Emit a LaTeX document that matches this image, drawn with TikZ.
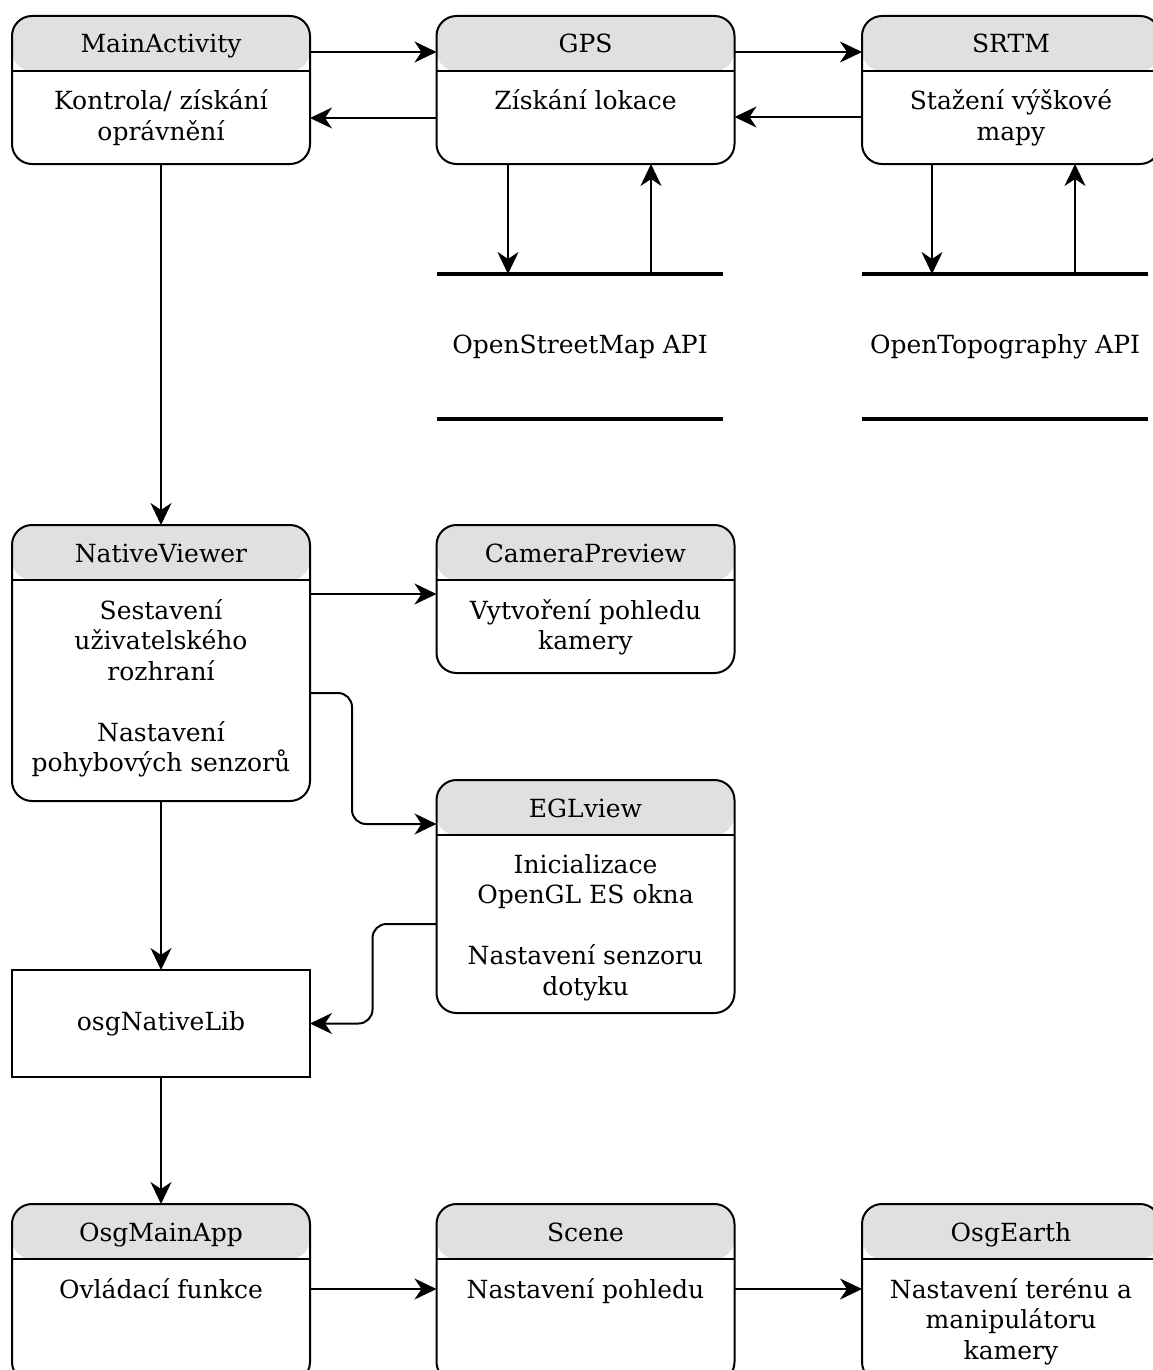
\documentclass[tikz,border=0pt]{standalone}
\usepackage{fontspec}
\setmainfont{DejaVu Serif}
\usetikzlibrary{positioning}
\usetikzlibrary{arrows.meta}
\definecolor{headgray}{HTML}{E0E0E0}

\begin{document}
\begin{tikzpicture}
  [
  x=1pt, y=-1pt,
  % 文字の設定
  every node/.style={font=\fontsize{25}{30.5}\selectfont, align=center,
  inner sep=0, outer sep=0},
  % 矢印の設定
  arrow/.style={-{Stealth[length=22pt, width=21pt, inset=7pt]}, line width=2pt},
  % 見出し付きブロック
  lane/.style={rectangle, draw, line width=2pt, rounded corners=20pt,
  minimum width=298pt, fill=white,
  path picture={\fill[headgray] (path picture bounding box.north west)
  rectangle ([yshift=-55pt]path picture bounding box.north east);
  \draw[line width=2pt] ([yshift=-55pt]path picture bounding box.north west)
  -- ([yshift=-55pt]path picture bounding box.north east);}},
  % 見出しと本文
  title/.style={anchor=base},
  body/.style={anchor=north},
  % 単純なブロック
  plainbox/.style={rectangle, draw, line width=2pt, minimum width=298pt,
  minimum height=107pt},
  % データストア
  store/.style={minimum width=286pt, minimum height=145pt},
  storeline/.style={line width=4pt}
  ]
  \useasboundingbox (0,0) rectangle (1153,1370);

  % 上段
  \node [lane, minimum height=148pt] (main) at (161,90) {};
  \node [title] (mainT) at ([yshift=-37pt]main.north) {MainActivity};
  \node [body] (mainB) at ([yshift=-74pt]main.north) {Kontrola/ získání\\oprávnění};
  \node [lane, minimum height=148pt] (gps) at (585.5,90) {};
  \node [title] (gpsT) at ([yshift=-37pt]gps.north) {GPS};
  \node [body] (gpsB) at ([yshift=-74pt]gps.north) {Získání lokace};
  \node [lane, minimum height=148pt] (srtm) at (1011,90) {};
  \node [title] (srtmT) at ([yshift=-37pt]srtm.north) {SRTM};
  \node [body] (srtmB) at ([yshift=-74pt]srtm.north) {Stažení výškové\\mapy};

  % API
  \node [store] (osm) at (580,346.5) {OpenStreetMap API};
  \draw [storeline] (osm.north west) -- (osm.north east);
  \draw [storeline] (osm.south west) -- (osm.south east);
  \node [store] (topo) at (1005,346.5) {OpenTopography API};
  \draw [storeline] (topo.north west) -- (topo.north east);
  \draw [storeline] (topo.south west) -- (topo.south east);

  % 中段
  \node [lane, minimum height=276pt] (native) at (161,663) {};
  \node [title] (nativeT) at ([yshift=-37pt]native.north) {NativeViewer};
  \node [body] (nativeB) at ([yshift=-74pt]native.north)
  {Sestavení\\uživatelského\\rozhraní\\[30.5pt]Nastavení\\pohybových senzorů};
  \node [lane, minimum height=148pt] (camera) at (585.5,599) {};
  \node [title] (cameraT) at ([yshift=-37pt]camera.north) {CameraPreview};
  \node [body] (cameraB) at ([yshift=-74pt]camera.north) {Vytvoření pohledu\\kamery};
  \node [lane, minimum height=233pt] (egl) at (585.5,896.5) {};
  \node [title] (eglT) at ([yshift=-37pt]egl.north) {EGLview};
  \node [body] (eglB) at ([yshift=-74pt]egl.north)
  {Inicializace\\OpenGL ES okna\\[30.5pt]Nastavení senzoru\\dotyku};
  \node [plainbox] (lib) at (161,1023.5) {osgNativeLib};

  % 下段
  \node [lane, minimum height=178pt] (osgmain) at (161,1293) {};
  \node [title] (osgmainT) at ([yshift=-37pt]osgmain.north) {OsgMainApp};
  \node [body] (osgmainB) at ([yshift=-74pt]osgmain.north) {Ovládací funkce};
  \node [lane, minimum height=178pt] (scene) at (585.5,1293) {};
  \node [title] (sceneT) at ([yshift=-37pt]scene.north) {Scene};
  \node [body] (sceneB) at ([yshift=-74pt]scene.north) {Nastavení pohledu};
  \node [lane, minimum height=178pt] (earth) at (1011,1293) {};
  \node [title] (earthT) at ([yshift=-37pt]earth.north) {OsgEarth};
  \node [body] (earthB) at ([yshift=-74pt]earth.north)
  {Nastavení terénu a\\manipulátoru\\kamery};

  % 矢印
  \draw [arrow] ([yshift=-36pt]main.north east) -- ([yshift=-36pt]gps.north west);
  \draw [arrow] ([yshift=-102pt]gps.north west) -- ([yshift=-102pt]main.north east);
  \draw [arrow] ([yshift=-36pt]gps.north east) -- ([yshift=-36pt]srtm.north west);
  \draw [arrow] ([yshift=-101pt]srtm.north west) -- ([yshift=-101pt]gps.north east);
  \draw [arrow] ([xshift=-77.5pt]gps.south) -- ([xshift=-77.5pt]gps.south |- osm.north);
  \draw [arrow] ([xshift=65.5pt]gps.south |- osm.north) -- ([xshift=65.5pt]gps.south);
  \draw [arrow] ([xshift=-79pt]srtm.south) -- ([xshift=-79pt]srtm.south |- topo.north);
  \draw [arrow] ([xshift=64pt]srtm.south |- topo.north) -- ([xshift=64pt]srtm.south);
  \draw [arrow] (main.south) -- (native.north);
  \draw [arrow] ([yshift=-69pt]native.north east) -- ([yshift=-69pt]camera.north west);
  \draw [arrow, rounded corners=14pt] ([yshift=-168pt]native.north east)
  -- ++(42,0) |- ([yshift=-44pt]egl.north west);
  \draw [arrow, rounded corners=14pt] ([yshift=-144pt]egl.north west)
  -- ++(-64,0) |- (lib.east);
  \draw [arrow] (native.south) -- (lib.north);
  \draw [arrow] (lib.south) -- (osgmain.north);
  \draw [arrow] ([yshift=-85pt]osgmain.north east) -- ([yshift=-85pt]scene.north west);
  \draw [arrow] ([yshift=-85pt]scene.north east) -- ([yshift=-85pt]earth.north west);
\end{tikzpicture}
\end{document}
